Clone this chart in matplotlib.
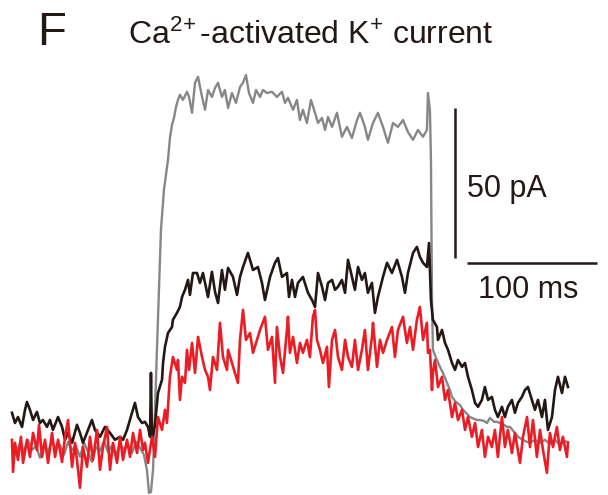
import matplotlib

matplotlib.use("Agg")
import matplotlib.pyplot as plt  # noqa: E402

plt.rcParams["font.family"] = ["Liberation Sans", "DejaVu Sans"]
plt.rcParams["mathtext.fontset"] = "custom"
plt.rcParams["mathtext.rm"] = "Liberation Sans"
plt.rcParams["mathtext.it"] = "Liberation Sans:italic"

# time in ms, current in pA (baseline = 0 pA)
gray_t = [0, 3.1, 6.2, 9.2, 12.3, 15.4, 18.5, 21.5, 24.6, 27.7, 30.8, 33.8, 36.9, 40, 43.1,
          46.2, 49.2, 52.3, 55.4, 58.5, 61.5, 64.6, 67.7, 70.8, 73.8, 76.9, 80, 83.1, 86.2,
          89.2, 92.3, 95.4, 98.5, 101.5, 103.8, 105.4, 106.9, 108.5, 111.5, 114.6, 116.9,
          120, 121.5, 123.1, 124.6, 126.2, 127.7, 129.2, 131.5, 134.6, 136.2, 138.5, 140.8,
          143.1, 146.2, 148.5, 150.8, 153.8, 156.2, 158.5, 161.5, 163.8, 166.2, 169.2, 172.3,
          175.4, 177.7, 180, 182.3, 185.4, 187.7, 190.8, 193.1, 196.2, 200, 203.8, 207.7,
          210, 212.3, 216.2, 219.2, 221.5, 223.8, 226.9, 230, 233.1, 235.4, 238.5, 240.8,
          243.1, 246.2, 250, 253.8, 257.7, 261.5, 265.4, 267.7, 271.5, 273.8, 277.7, 281.5,
          285.4, 289.2, 293.1, 296.9, 300.8, 304.6, 308.5, 312.3, 316.2, 319.2, 320, 321.5,
          322.3, 323.1, 323.8, 326.2, 329.2, 331.5, 334.6, 336.9, 338.5, 341.5, 344.6, 346.9,
          350, 352.3, 355.4, 357.7, 360, 363.1, 365.4, 367.7, 370.8, 373.1, 375.4, 378.5,
          380.8, 383.1, 386.2, 389.2, 393.1, 396.2, 398.5, 402.3, 406.2, 410, 413.8, 417.7,
          421.5, 424.6, 427.7]
gray_i = [-0.7, -3.3, 0.7, -2.3, 1.7, -1.7, -0.3, -4.3, 0.3, -2.3, 1.3, -1.3, 0, -3.3, 1,
          -1.7, -0.3, -4, 0.7, -2.3, -5.7, -0.7, -2, 1.3, -2.3, -0.3, -3.3, 0.3, -1.7,
          0, -2.7, 1, -1, -3.3, -8.3, -16, -15.7, -8.3, 31.7, 71.7, 85,
          95, 102.3, 106.7, 109, 112.7, 115, 116.7, 115, 117.7, 116, 110.7, 120.7,
          122.7, 116, 111.7, 118.3, 116, 119, 120.7, 116, 118.3, 112.3, 117.3, 114,
          119.3, 120.7, 123.3, 117.3, 114, 118.3, 116, 118.3, 117.3, 117.7, 116, 117.7,
          114, 115.7, 111.7, 115, 108.3, 111.7, 107.3, 115, 110.7, 107.3, 109, 105,
          109.3, 106, 110.7, 102.7, 106, 102.3, 108.3, 110.7, 106, 101.7, 107.3, 110.7,
          106, 100.7, 107.3, 106, 108.3, 104.3, 101.7, 105, 102.7, 105, 117.3, 111.7,
          95, 48.3, 31.7, 29, 26, 24, 20.7, 18.3, 16, 14.3, 13.3, 11.7,
          10.3, 9.3, 8.7, 8.3, 8.3, 8, 7.3, 9, 7.7, 7.7, 7.3, 6.7,
          6, 6, 4.3, 2.7, 1.7, 1, 0.7, 1.7, 0.7, 1.7, 0.3, 1.7,
          0, 1.3, 1]

black_t = [0, 2.3, 4.6, 7.7, 10, 11.5, 13.8, 16.2, 19.2, 21.5, 23.8, 26.9, 29.2, 31.5, 35.4,
           38.5, 40.8, 43.1, 46.2, 50, 52.3, 54.6, 58.5, 61.5, 63.8, 67.7, 71.5, 75.4, 79.2,
           83.1, 85.4, 88.5, 92.3, 94.6, 96.9, 100, 102.3, 104.6, 106.2, 106.9, 107.7, 110,
           112.3, 115.4, 116.2, 117.7, 120, 123.1, 123.8, 126.9, 129.2, 130.8, 133.1, 135.4,
           136.9, 139.2, 142.3, 144.6, 146.9, 150.8, 153.8, 156.2, 158.5, 161.5, 163.8, 166.2,
           170, 173.1, 175.4, 177.7, 181.5, 185.4, 189.2, 192.3, 194.6, 198.5, 202.3, 204.6,
           207.7, 211.5, 213.1, 215.4, 217.7, 220, 223.8, 227.7, 230.8, 233.1, 235.4, 238.5,
           240.8, 243.1, 246.2, 248.5, 250.8, 253.8, 256.2, 258.5, 261.5, 263.8, 266.2, 269.2,
           271.5, 273.8, 276.9, 279.2, 281.5, 285.4, 288.5, 292.3, 296.2, 300, 302.3, 304.6,
           308.5, 311.5, 313.8, 316.2, 319.2, 320.8, 322.3, 323.8, 326.9, 327.7, 330.8, 333.1,
           335.4, 338.5, 340.8, 343.1, 346.2, 348.5, 350.8, 353.8, 356.2, 358.5, 361.5, 363.8,
           366.2, 369.2, 371.5, 373.8, 376.9, 379.2, 381.5, 384.6, 386.9, 389.2, 392.3, 394.6,
           396.9, 400, 402.3, 404.6, 407.7, 410, 412.3, 415.4, 417.7, 420, 423.1, 425.4, 427.7]
black_i = [10.7, 7.3, 9.3, 6, 11.7, 14.3, 11.7, 8.3, 11, 7.3, 8.3, 6, 8.3, 5, 9.3,
           6, 1.7, 4, 0.7, 6.7, 4, 0.7, 5, 8.3, 5, 2.7, 6, 4, 1.7,
           2.7, 1.7, 5, 10.7, 14, 9.3, 7.3, 7.7, 6, 2.7, 24, 1.7, 6.7,
           17.3, 21.7, 27.3, 32.7, 37.3, 39.3, 41.7, 44, 46, 49.3, 51.7, 55,
           50, 57.3, 57.3, 54, 57.3, 49.3, 57.7, 51, 47.3, 58.3, 51.7, 59,
           56, 50, 56, 59.3, 64, 58.3, 59.3, 54, 48.3, 56, 60.7, 62.3,
           56, 57.3, 49.3, 55, 49.3, 54, 56, 50.7, 48.3, 46, 57.3, 52.7,
           48.3, 54, 55, 51.7, 52.7, 55, 50.7, 61.7, 56, 51.7, 59.3, 55,
           57.3, 50.7, 54, 44, 49.3, 56, 60.7, 57.3, 61.7, 56, 50.7, 57.3,
           64, 66, 62.7, 60.7, 59.3, 67.3, 48.3, 41.7, 39.3, 35, 38.3, 34,
           31.7, 27.3, 25, 28.3, 26, 27.3, 22.7, 18.3, 14, 12.7, 15, 19.3,
           15, 16, 11.7, 9.3, 12.7, 9.3, 12.7, 15, 10.7, 14, 16, 18.3,
           19.3, 15, 11.7, 15, 9.3, 15, 5, 9.3, 18.3, 22.7, 17.3, 22.7, 19.3]

red_t = [0, 0.8, 2.3, 4.6, 6.9, 8.5, 11.5, 13.8, 16.2, 19.2, 20.8, 23.1, 25.4, 27.7, 30.8,
         33.1, 35.4, 38.5, 40.8, 43.1, 46.2, 48.5, 50.8, 52.3, 54.6, 57.7, 60, 62.3, 65.4,
         67.7, 70, 73.1, 75.4, 77.7, 80.8, 83.1, 85.4, 88.5, 90.8, 93.1, 96.2, 98.5, 100.8,
         102.3, 104.6, 107.7, 110, 112.3, 115.4, 117.7, 119.2, 121.5, 123.1, 123.8, 126.9,
         127.7, 129.2, 130.8, 133.1, 134.6, 136.2, 138.5, 140.8, 143.1, 146.2, 148.5, 150.8,
         152.3, 154.6, 157.7, 160, 162.3, 165.4, 166.2, 169.2, 171.5, 173.8, 175.4, 177.7,
         180, 183.1, 185.4, 188.5, 190.8, 194.6, 196.9, 200, 202.3, 203.8, 206.2, 208.5,
         211.5, 212.3, 213.8, 216.2, 219.2, 221.5, 223.8, 226.9, 229.2, 231.5, 233.1, 234.6,
         236.9, 239.2, 242.3, 243.8, 246.2, 248.5, 250.8, 253.8, 256.2, 258.5, 261.5, 263.8,
         266.2, 269.2, 271.5, 273.8, 276.9, 277.7, 280.8, 283.1, 285.4, 288.5, 292.3, 294.6,
         296.9, 300.8, 303.8, 306.2, 308.5, 311.5, 313.8, 316.2, 319.2, 320, 321.5, 323.1,
         323.8, 325.4, 327.7, 330.8, 333.1, 335.4, 338.5, 340.8, 343.1, 346.2, 348.5, 350.8,
         353.8, 356.2, 358.5, 361.5, 363.8, 366.2, 369.2, 371.5, 373.8, 376.9, 379.2, 381.5,
         384.6, 386.9, 390.8, 393.1, 396.2, 398.5, 400.8, 403.8, 406.2, 408.5, 411.5, 413.8,
         416.2, 419.2, 421.5, 423.8, 426.9, 427.7]
red_i = [1.7, -9, 0.7, -5, 2.7, -6, 1.7, -4, 4, -1.7, 6.7, -4, 1.7, -6, 4,
         -4, 1.7, -5.7, 2.7, 8.3, -7.3, 0.7, -8.3, -14.3, -0.7, -7.3, 2.7, -5, 5,
         -8.3, -0.7, 6, -8.3, 0.7, -6, 2.7, -5, 1.7, -4, 4, -2.7, 5, -1.7,
         0.7, -6, 2.7, -4, 9.3, 5, 11.7, 7.3, 22.7, 27.3, 29.3, 25,
         28.3, 15, 22.7, 20.7, 31.7, 25, 34, 24, 36, 29.3, 25, 22.7,
         18.3, 29.3, 25, 40.7, 29.3, 25, 31.7, 27.3, 24, 20.7, 35, 45,
         35, 37.3, 30.7, 35, 38.3, 42.7, 31.7, 36, 20.7, 39.3, 29.3, 24,
         38.3, 42.7, 30.7, 36, 27.3, 34, 30.7, 35, 29.3, 42.7, 45, 35,
         31.7, 27.3, 32.7, 19.3, 35, 38.3, 29.3, 25, 35, 29.3, 26, 35,
         25, 31.7, 38.3, 25, 36, 40.7, 26, 35, 30.7, 35, 39.3, 29.3,
         38.3, 42.7, 34, 39.3, 31.7, 41.7, 46, 35, 40.7, 30.7, 31.7, 18.3,
         24, 28.3, 19.3, 22.7, 15, 18.3, 9.3, 14, 8.3, 11.7, 5, 9.3,
         2.7, 7.3, -0.7, 5, -4, 2.7, -0.7, 5, -4, 9.3, -0.7, 5,
         -2.7, 4, -6, 2.7, 9.3, -0.7, 8.3, -4, 5, -1.7, -9.3, 4,
         -0.7, 6, -1.7, 2.7, -4, 0.7]

GRAY = "#87878a"
BLACK = "#231815"
RED = "#ec1c24"

fig = plt.figure(figsize=(6.08, 4.95), dpi=100)
ax = fig.add_axes([0, 0, 1, 1])
ax.set_xlim(-9.23, 458.5)
ax.set_ylim(-16.7, 148.3)
ax.axis("off")

ax.plot(gray_t, gray_i, color=GRAY, linewidth=1.7, zorder=1)
ax.plot(black_t, black_i, color=BLACK, linewidth=1.9, zorder=2)
ax.plot(red_t, red_i, color=RED, linewidth=1.9, zorder=3)

# scale bars: 50 pA, 100 ms
ax.plot([340.8, 340.8], [62.3, 112.3], color=BLACK, linewidth=1.8, solid_capstyle="butt")
ax.plot([350, 450], [60.7, 60.7], color=BLACK, linewidth=1.8, solid_capstyle="butt")
ax.text(350, 82.7, "50 pA", fontsize=22, ha="left", va="baseline", color=BLACK)
ax.text(358.5, 49, "100 ms", fontsize=22, ha="left", va="baseline", color=BLACK)

fig.text(37 / 608, 1 - 45 / 495, "F", fontsize=34, ha="left", va="baseline", color=BLACK)
fig.text(128 / 608, 1 - 44 / 495, r"Ca$^{2\!+}$-activated K$^{+}$ current",
         fontsize=23, ha="left", va="baseline", color=BLACK)

fig.savefig("out.png", dpi=100)
